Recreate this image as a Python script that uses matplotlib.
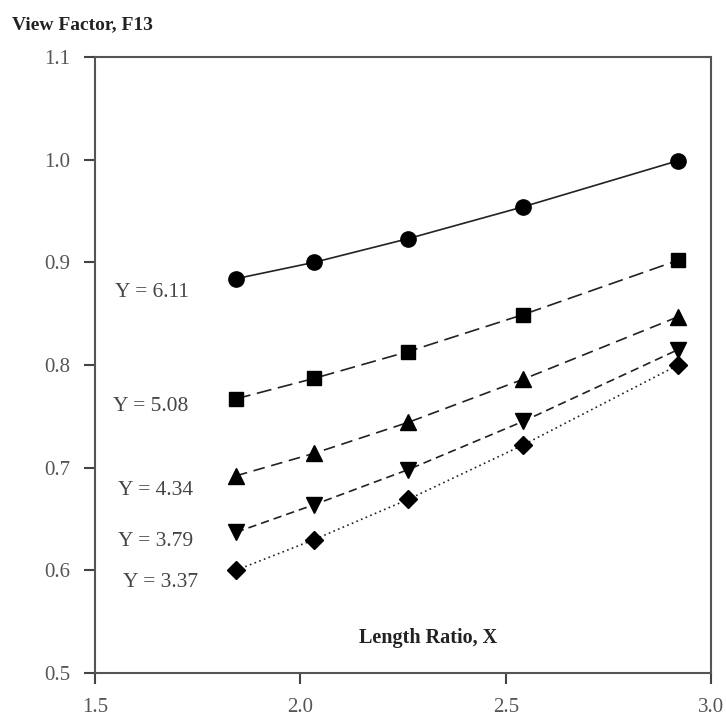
from matplotlib import pyplot as plt
import numpy as np

# length ratio X (same for all curves)
x_ratio = [1.843, 2.034, 2.262, 2.542, 2.920]

# view factor F13 for each Y value
f13_y611 = [0.884, 0.900, 0.923, 0.954, 0.999]
f13_y508 = [0.767, 0.787, 0.813, 0.849, 0.902]
f13_y434 = [0.692, 0.714, 0.744, 0.786, 0.847]
f13_y379 = [0.637, 0.664, 0.698, 0.745, 0.815]
f13_y337 = [0.600, 0.630, 0.669, 0.722, 0.800]

curve_labels = ['Y = 6.11', 'Y = 5.08', 'Y = 4.34', 'Y = 3.79', 'Y = 3.37']
label_x = [1.549, 1.544, 1.556, 1.556, 1.568]
label_y = [0.871, 0.760, 0.678, 0.628, 0.588]

x_ticks = [1.5, 2.0, 2.5, 3.0]
y_ticks = [0.5, 0.6, 0.7, 0.8, 0.9, 1.0, 1.1]

serif = ['Liberation Serif', 'DejaVu Serif']
grey = '#555555'

fig = plt.figure(figsize=(7.26, 7.22), dpi=100)
ax = fig.add_axes([0.1309, 0.0679, 0.8485, 0.8532])

series = [f13_y611, f13_y508, f13_y434, f13_y379, f13_y337]
markers = ['o', 's', '^', 'v', 'D']
msizes = [11, 10, 11, 11, 9]
styles = ['-', (0, (9, 4)), (0, (7, 4)), (0, (5, 3)), (0, (1, 2))]

for vals, mk, ms, ls in zip(series, markers, msizes, styles):
    ax.plot(x_ratio, vals, linestyle=ls, color='#222222', lw=1.2,
            marker=mk, markersize=ms, markerfacecolor='black',
            markeredgecolor='black')

for txt, lx, ly in zip(curve_labels, label_x, label_y):
    ax.text(lx, ly, txt, family=serif, fontsize=15.5, color='#444444',
            ha='left', va='center')

ax.text(2.311, 0.534, 'Length Ratio, X', family=serif, fontsize=14.5,
        fontweight='bold', color='#222222', ha='center', va='center')
fig.text(12 / 726, 1 - 25 / 722, 'View Factor, F13', family=serif,
         fontsize=14, fontweight='bold', color='#222222',
         ha='left', va='center')

ax.set_xlim(1.5, 3.0)
ax.set_ylim(0.5, 1.1)
ax.set_xticks(x_ticks)
ax.set_xticklabels(['%.1f' % v for v in x_ticks])
ax.set_yticks(y_ticks)
ax.set_yticklabels(['%.1f' % v for v in y_ticks])
ax.tick_params(axis='both', direction='out', length=8, width=1.5,
               color='#444444', labelcolor=grey, labelsize=15, pad=10)
for lab in ax.get_xticklabels() + ax.get_yticklabels():
    lab.set_family(serif)
for sp in ax.spines.values():
    sp.set_color('#555555')
    sp.set_linewidth(1.5)

fig.savefig('out.png', dpi=100)
